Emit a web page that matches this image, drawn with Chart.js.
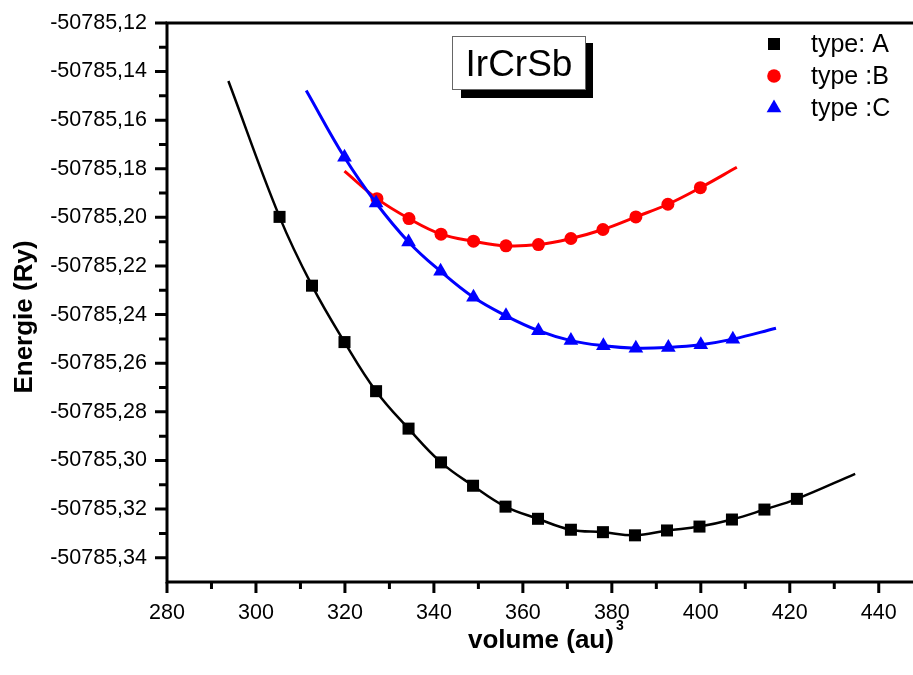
<!DOCTYPE html>
<html>
<head>
<meta charset="utf-8">
<script src="https://cdn.jsdelivr.net/npm/chart.js@4.4.1/dist/chart.umd.min.js"></script>
<style>
  body { margin: 0; background: #fff; }
  canvas { display: block; }
</style>
</head>
<body>
<canvas id="chart" width="913" height="675"></canvas>
<script>
// volumes and energies
const vol_a = [305.3, 312.6, 319.9, 327.0, 334.3, 341.6, 348.8, 356.1, 363.4, 370.8, 378.0, 385.2, 392.4, 399.7, 407.0, 414.3, 421.6];
const energy_a = [-50785.1998, -50785.2281, -50785.2513, -50785.2715, -50785.2869, -50785.3008, -50785.3104, -50785.3190, -50785.3240, -50785.3285, -50785.3295, -50785.3308, -50785.3288, -50785.3272, -50785.3243, -50785.3202, -50785.3158];

const vol_b = [327.2, 334.4, 341.6, 348.9, 356.2, 363.5, 370.8, 378.0, 385.4, 392.6, 399.9];
const energy_b = [-50785.1923, -50785.2005, -50785.2069, -50785.2098, -50785.2117, -50785.2112, -50785.2087, -50785.2050, -50785.1998, -50785.1946, -50785.1878];

const vol_c = [319.9, 327.0, 334.3, 341.5, 348.9, 356.2, 363.5, 370.8, 378.1, 385.4, 392.7, 400.0, 407.2];
const energy_c = [-50785.1753, -50785.1941, -50785.2101, -50785.2222, -50785.2329, -50785.2405, -50785.2466, -50785.2507, -50785.2528, -50785.2538, -50785.2535, -50785.2524, -50785.2501];

// ends of the fitted curves, where they stick out past the points
const fit_ends_a = [[293.8, -50785.1439], [434.7, -50785.3055]];
const fit_ends_b = [[319.9, -50785.1810], [408.1, -50785.1794]];
const fit_ends_c = [[311.3, -50785.1478], [416.9, -50785.2456]];

const series_names = ['type: A', 'type :B', 'type :C'];
const series_colors = ['#000000', '#ff0000', '#0000ff'];
const series_styles = ['rect', 'circle', 'triangle'];
const series_radius = [8.5, 6.5, 8.5];

const x_min = 280, x_max = 447.7, x_step = 10;
const y_min = -50785.35, y_max = -50785.12, y_step = 0.01;

const box_text = 'IrCrSb';
const x_title = 'volume (au)';
const x_title_sup = '3';
const y_title = 'Energie (Ry)';

const FONT = '"Liberation Sans", Arial, Helvetica, sans-serif';

function to_points(xs, ys) {
    return xs.map((v, i) => ({x: v, y: ys[i]}));
}

function fit_points(xs, ys, ends) {
    const pts = to_points(xs, ys);
    return [{x: ends[0][0], y: ends[0][1]}, ...pts, {x: ends[1][0], y: ends[1][1]}];
}

const vols = [vol_a, vol_b, vol_c];
const energies = [energy_a, energy_b, energy_c];
const fit_ends = [fit_ends_a, fit_ends_b, fit_ends_c];

const datasets = [];
for (let i = 0; i < 3; i++) {
    datasets.push({
        label: 'fit ' + series_names[i],
        data: fit_points(vols[i], energies[i], fit_ends[i]),
        showLine: true,
        borderColor: series_colors[i],
        borderWidth: i === 0 ? 2.5 : 3,
        pointRadius: 0,
        tension: 0.4,
        order: 10 - i * 2
    });
    datasets.push({
        label: series_names[i],
        data: to_points(vols[i], energies[i]),
        showLine: false,
        pointStyle: series_styles[i],
        pointRadius: series_radius[i],
        pointBackgroundColor: series_colors[i],
        pointBorderWidth: 0,
        order: 9 - i * 2
    });
}

function is_major_x(v) { return Math.round(v) % 20 === 0; }
function is_major_y(v) { return Math.round(v * 100) % 2 === 0; }

function marker(ctx, style, r, x, y) {
    if (Chart.helpers && Chart.helpers.drawPoint) {
        Chart.helpers.drawPoint(ctx, {pointStyle: style, radius: r, rotation: 0, borderWidth: 0}, x, y);
        return;
    }
    ctx.beginPath();
    if (style === 'rect') {
        const s = r * Math.SQRT1_2;
        ctx.rect(x - s, y - s, 2 * s, 2 * s);
    } else if (style === 'circle') {
        ctx.arc(x, y, r, 0, Math.PI * 2);
    } else {
        ctx.moveTo(x, y - r);
        ctx.lineTo(x + r * 0.866, y + r / 2);
        ctx.lineTo(x - r * 0.866, y + r / 2);
        ctx.closePath();
    }
    ctx.fill();
}

const frame_plugin = {
    id: 'frame',
    afterDraw(chart) {
        const {ctx, chartArea: a, scales: {x, y}} = chart;
        ctx.save();
        ctx.strokeStyle = '#000';
        ctx.lineWidth = 3;
        ctx.beginPath();
        ctx.moveTo(a.left - 1.5, a.top);
        ctx.lineTo(chart.width, a.top);
        ctx.moveTo(a.left, a.top);
        ctx.lineTo(a.left, a.bottom);
        ctx.moveTo(a.left - 1.5, a.bottom);
        ctx.lineTo(chart.width, a.bottom);
        ctx.stroke();

        ctx.beginPath();
        x.ticks.forEach(t => {
            const px = x.getPixelForValue(t.value);
            const len = is_major_x(t.value) ? 11 : 7;
            ctx.moveTo(px, a.bottom);
            ctx.lineTo(px, a.bottom + len);
        });
        y.ticks.forEach(t => {
            if (Math.abs(t.value - y_min) < 1e-6) return;
            const py = y.getPixelForValue(t.value);
            const len = is_major_y(t.value) ? 12 : 8;
            ctx.moveTo(a.left, py);
            ctx.lineTo(a.left - len, py);
        });
        ctx.stroke();

        // axis titles
        ctx.fillStyle = '#000';
        ctx.font = 'bold 26px ' + FONT;
        ctx.textBaseline = 'alphabetic';
        ctx.textAlign = 'left';
        ctx.fillText(x_title, 468, 648);
        const w = ctx.measureText(x_title).width;
        ctx.font = 'bold 14px ' + FONT;
        ctx.fillText(x_title_sup, 468 + w + 2, 630);

        ctx.save();
        ctx.translate(32, 317);
        ctx.rotate(-Math.PI / 2);
        ctx.font = 'bold 26px ' + FONT;
        ctx.textAlign = 'center';
        ctx.fillText(y_title, 0, 0);
        ctx.restore();

        // label box with shadow
        ctx.fillStyle = '#000';
        ctx.fillRect(461, 43, 132, 55);
        ctx.fillStyle = '#fff';
        ctx.fillRect(452, 36, 134, 54);
        ctx.strokeStyle = '#666';
        ctx.lineWidth = 1;
        ctx.strokeRect(452.5, 36.5, 133, 53);
        ctx.fillStyle = '#000';
        ctx.font = '37px ' + FONT;
        ctx.textAlign = 'center';
        ctx.textBaseline = 'alphabetic';
        ctx.fillText(box_text, 519, 76);

        // legend
        ctx.font = '25px ' + FONT;
        ctx.textAlign = 'left';
        ctx.textBaseline = 'middle';
        const rows = [44, 76, 108];
        for (let i = 0; i < 3; i++) {
            ctx.fillStyle = series_colors[i];
            marker(ctx, series_styles[i], series_radius[i] * (i === 1 ? 1.05 : 1), 774, rows[i]);
            ctx.fillStyle = '#000';
            ctx.fillText(series_names[i], 811, rows[i] + 1);
        }
        ctx.restore();
    }
};

new Chart(document.getElementById('chart'), {
    type: 'scatter',
    data: {datasets: datasets},
    plugins: [frame_plugin],
    options: {
        responsive: false,
        animation: false,
        layout: {autoPadding: false, padding: {top: 20, left: 0, right: 0, bottom: 0}},
        plugins: {
            legend: {display: false},
            tooltip: {enabled: false}
        },
        scales: {
            x: {
                type: 'linear',
                bounds: 'data',
                min: x_min,
                max: x_max,
                grid: {drawOnChartArea: false, drawTicks: true, tickLength: 10, color: 'rgba(0,0,0,0)'},
                border: {display: false},
                ticks: {
                    stepSize: x_step,
                    includeBounds: false,
                    autoSkip: false,
                    maxRotation: 0,
                    padding: 8,
                    color: '#000',
                    font: {family: FONT, size: 21.5},
                    callback: v => is_major_x(v) ? String(Math.round(v)) : ''
                },
                afterFit: s => { s.height = 93; }
            },
            y: {
                type: 'linear',
                bounds: 'data',
                min: y_min,
                max: y_max,
                grid: {drawOnChartArea: false, drawTicks: true, tickLength: 10, color: 'rgba(0,0,0,0)'},
                border: {display: false},
                ticks: {
                    stepSize: y_step,
                    includeBounds: false,
                    autoSkip: false,
                    padding: 10,
                    color: '#000',
                    font: {family: FONT, size: 21.5},
                    callback: v => is_major_y(v) ? v.toFixed(2).replace('.', ',') : ''
                },
                afterFit: s => { s.width = 167; }
            }
        }
    }
});
</script>
</body>
</html>
